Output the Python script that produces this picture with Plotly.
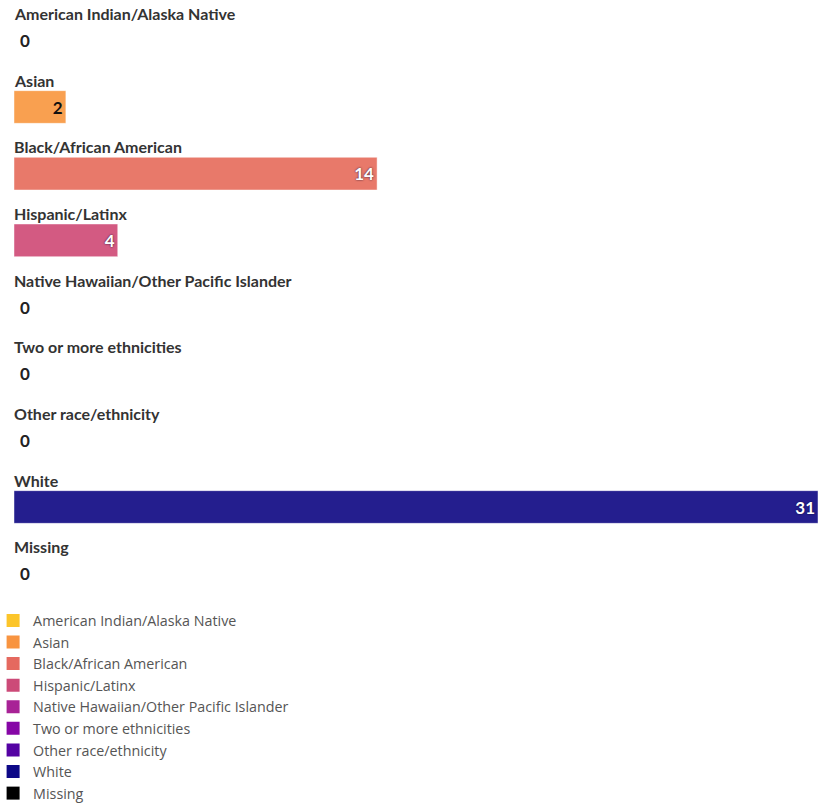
import plotly.graph_objects as go

categories = ["American Indian/Alaska Native", "Asian", "Black/African American",
              "Hispanic/Latinx", "Native Hawaiian/Other Pacific Islander",
              "Two or more ethnicities", "Other race/ethnicity", "White", "Missing"]
values = [0, 2, 14, 4, 0, 0, 0, 31, 0]
bar_colors = ["#fdc52a", "#f9a050", "#e8796a", "#d35a82", "#ad2a97",
              "#8a0ca6", "#5706a3", "#241e8e", "#000000"]
legend_colors = ["#fcc52a", "#f89440", "#e5695f", "#cc4a78", "#a82296",
                 "#8606a6", "#5402a3", "#0d0887", "#000000"]
text_colors = ["#111111", "#111111", "#ffffff", "#ffffff", "#ffffff",
               "#ffffff", "#ffffff", "#ffffff", "#ffffff"]

FONT = "Lato"
fig = go.Figure()
for i, (cat, val, col, lcol, tc) in enumerate(zip(categories, values, bar_colors, legend_colors, text_colors)):
    fig.add_trace(go.Bar(
        x=[val], y=[i], name=cat, orientation="h",
        marker=dict(color=col, line=dict(color="rgba(255,255,255,0.45)", width=1)),
        text=[str(val)] if val > 0 else None,
        textposition="inside", insidetextanchor="end",
        textfont=dict(family=FONT, size=17, color=tc, weight="bold",
                      shadow="none" if tc == "#111111" else "0px 0px 2px rgba(0,0,40,0.85)"),
        showlegend=False, hoverinfo="skip", cliponaxis=False,
    ))
    fig.add_trace(go.Scatter(
        x=[None], y=[None], mode="markers", name=cat,
        marker=dict(color=lcol, symbol="square", size=13),
        legendgroup=cat, hoverinfo="skip",
    ))
    fig.add_annotation(x=0, y=i, xref="x", yref="y", text=f"<b>{cat}</b>",
                       showarrow=False, xanchor="left", yanchor="middle", yshift=27, xshift=-2,
                       font=dict(family=FONT, size=16, color="#333333"))
    if val == 0:
        fig.add_annotation(x=0, y=i, xref="x", yref="y", text=f"<b>{val}</b>",
                           showarrow=False, xanchor="left", yanchor="middle", xshift=4,
                           font=dict(family=FONT, size=17, color="#222222"))

fig.update_layout(
    width=818, height=804,
    margin=dict(l=14, r=0, t=7, b=197, autoexpand=False),
    plot_bgcolor="white", paper_bgcolor="white",
    barmode="overlay", bargap=0.51,
    xaxis=dict(range=[0, 31], visible=False, fixedrange=True),
    yaxis=dict(range=[8.5, -0.5], visible=False, fixedrange=True),
    showlegend=True,
    legend=dict(x=-0.026, y=0.004, xanchor="left", yanchor="top", orientation="v",
                font=dict(family="Open Sans", size=14.3, color="#555555"),
                tracegroupgap=0, itemwidth=30, bgcolor="rgba(0,0,0,0)"),
)
fig.write_html("out.html", config={"displayModeBar": False},
               post_script="document.body.style.margin='0';")
